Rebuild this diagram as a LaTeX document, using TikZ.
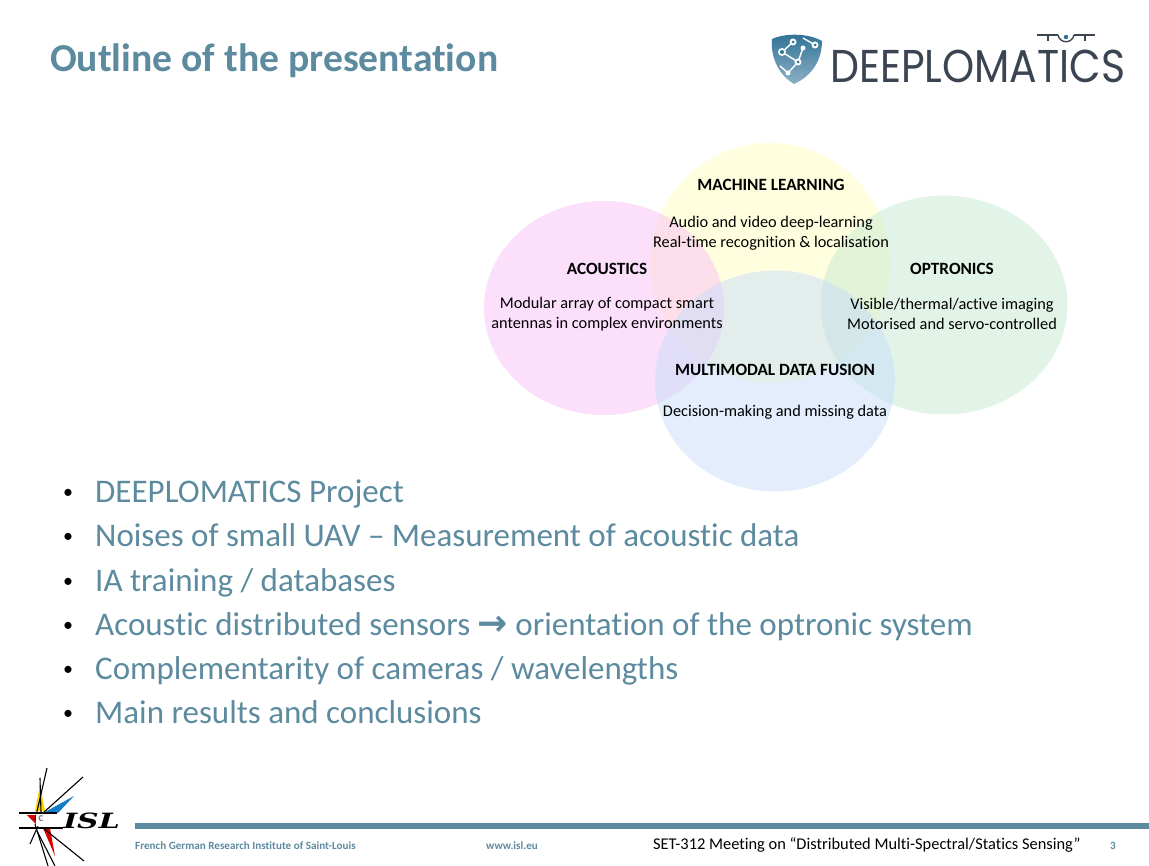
\documentclass[tikz,border=0pt]{standalone}
\usepackage{fontspec}
\setmainfont[Ligatures=NoCommon]{Carlito}
\newfontfamily\logofont{Poppins}
\newfontfamily\symbfont{DejaVu Sans}
\newfontfamily\islfont{DejaVu Serif}
\usetikzlibrary{shapes.geometric}
\definecolor{slate}{HTML}{5C8A9E}
\definecolor{logoblue}{HTML}{2F7196}
\definecolor{logodark}{HTML}{3B4552}
\definecolor{fieldpink}{HTML}{F9C1F8}
\definecolor{fieldyellow}{HTML}{FFFFC0}
\definecolor{fieldgreen}{HTML}{C5E8D1}
\definecolor{fieldblue}{HTML}{C7DCFA}
\tikzset{
  circle field/.style={ellipse,inner sep=0pt,fill opacity=.5},
  field title/.style={font=\fontsize{17.2}{17}\selectfont\bfseries,text=black,inner sep=0pt},
  field text/.style={font=\fontsize{16.3}{20}\selectfont,text=black,align=center,inner sep=0pt},
  bullet item/.style={font=\fontsize{33}{33}\selectfont,text=slate,anchor=base west,inner sep=0pt},
  bullet mark/.style={font=\fontsize{20}{20}\selectfont,text=black,anchor=base,inner sep=0pt},
  foot text/.style={font=\fontsize{11.1}{11}\selectfont\bfseries,text=slate,anchor=base west,inner sep=0pt},
  star ray/.style={black,line width=1.1pt},
}
\begin{document}
\begin{tikzpicture}[x=1pt,y=-1pt]
    \useasboundingbox (0,0) rectangle (1149,866);
    \node[font=\fontsize{39.6}{39}\selectfont\bfseries,text=slate,anchor=base west,inner sep=0pt] (title) at (50,72) {Outline of the presentation};

    \node[circle field,fill=fieldyellow,minimum width=240pt,minimum height=240pt] (learning) at (770,263) {};
    \node[circle field,fill=fieldpink,minimum width=240pt,minimum height=214pt] (acoustics) at (604,308) {};
    \node[circle field,fill=fieldgreen,minimum width=247pt,minimum height=219pt] (optronics) at (944,305) {};
    \node[circle field,fill=fieldblue,minimum width=240pt,minimum height=221pt] (fusion) at (775,381) {};

    \node[field title] (t1) at (771,185) {MACHINE LEARNING};
    \node[field text] (d1) at (771,233) {Audio and video deep-learning\\Real-time recognition \& localisation};
    \node[field title] (t2) at (607,269) {ACOUSTICS};
    \node[field text] (d2) at (607,314) {Modular array of compact smart\\antennas in complex environments};
    \node[field title] (t3) at (952,269) {OPTRONICS};
    \node[field text] (d3) at (952,314) {Visible/thermal/active imaging\\Motorised and servo-controlled};
    \node[field title] (t4) at (775,370) {MULTIMODAL DATA FUSION};
    \node[field text] (d4) at (775,412) {Decision-making and missing data};

    \node[bullet mark] (m1) at (68,498) {•};
    \node[bullet item] (b1) at (95,502) {DEEPLOMATICS Project};
    \node[bullet mark] (m2) at (68,542) {•};
    \node[bullet item] (b2) at (95,546) {Noises of small UAV – Measurement of acoustic data};
    \node[bullet mark] (m3) at (68,587) {•};
    \node[bullet item] (b3) at (95,591) {IA training / databases};
    \node[bullet mark] (m4) at (68,631) {•};
    \node[bullet item] (b4) at (95,635) {Acoustic distributed sensors {\symbfont\bfseries\fontsize{36}{33}\selectfont →} orientation of the optronic system};
    \node[bullet mark] (m5) at (68,675) {•};
    \node[bullet item] (b5) at (95,679) {Complementarity of cameras / wavelengths};
    \node[bullet mark] (m6) at (68,719) {•};
    \node[bullet item] (b6) at (95,723) {Main results and conclusions};

    % logo top right
    \shade[top color=logoblue,bottom color=logoblue!55] (772,39) .. controls (785,33) and (808,33) .. (822,41) .. controls (822,60) and (812,76) .. (794,84) .. controls (780,76) and (770,58) .. (772,39);
    \draw[white,line width=1.4pt] (793,42) -- (782,52) -- (798,62) -- (803,48);
    \draw[white,line width=1.4pt] (815,45) -- (803,38);
    \draw[white,line width=1.4pt] (798,62) -- (788,73) -- (780,66);
    \fill[white] (793,42) circle (3.5) (815,45) circle (3.5) (782,52) circle (4) (798,62) circle (3.5) (803,48) circle (2.5) (788,73) circle (2.5);
    \fill[logoblue] (793,42) circle (1.5) (815,45) circle (1.5) (782,52) circle (2) (798,62) circle (1.5);
    \node[font=\logofont\fontsize{46}{46}\selectfont,text=logodark,anchor=base west,inner sep=0pt,xscale=.89] (logo) at (830,83) {DEEPLOMATICS};
    \draw[logodark,line width=2.2pt] (1037,35) -- (1058,35) (1074,35) -- (1095,35);
    \draw[logodark,line width=2pt] (1048,35) -- (1048,41) (1085,35) -- (1085,41);
    \draw[logodark,line width=1.4pt] (1058,35) .. controls (1060,44) and (1072,44) .. (1074,35);
    \fill[logoblue] (1066,37) circle (2.2);

    % star of the footer
    \fill[yellow!70!orange] (40,785) -- (35,811) -- (45,811) -- cycle;
    \fill[cyan!60!blue] (74,796) -- (45,812) -- (58,813) -- cycle;
    \fill[red!85!black] (27,815) -- (36,815) -- (36,824) -- cycle;
    \fill[red!85!black] (43,828) -- (50,828) -- (55,856) -- cycle;
    \draw[star ray] (47,768) -- (35,820);
    \draw[star ray] (40,778) -- (41,812);
    \draw[star ray] (83,777) -- (43,813);
    \draw[star ray] (19,813) -- (57,813);
    \draw[star ray] (19,828) -- (63,828);
    \draw[star ray] (35,824) -- (48,866);
    \draw[star ray] (43,828) -- (84,861);
    \draw[star ray] (30,844) -- (38,826);
    \draw[star ray] (37,831) -- (55,866);
    \fill[white] (36,814) -- (50,819) -- (44,827) -- (36,826) -- cycle;
    \node[font=\fontsize{12}{12}\selectfont\bfseries,text=gray,inner sep=0pt] (star) at (41,819) {c};
    \node[font=\islfont\fontsize{21}{21}\selectfont\bfseries\itshape,text=black,anchor=base west,inner sep=0pt,xscale=1.42] (isl) at (63,828) {ISL};

    \fill[slate] (135,823) rectangle (1149,829);
    \node[foot text] (f1) at (135,849) {French German Research Institute of Saint-Louis};
    \node[foot text] (f2) at (486,849) {www.isl.eu};
    \node[font=\fontsize{16.4}{16}\selectfont,text=black,anchor=base west,inner sep=0pt] (f3) at (653,849) {SET-312 Meeting on “Distributed Multi-Spectral/Statics Sensing”};
    \node[foot text] (f4) at (1110,849) {3};
\end{tikzpicture}
\end{document}
